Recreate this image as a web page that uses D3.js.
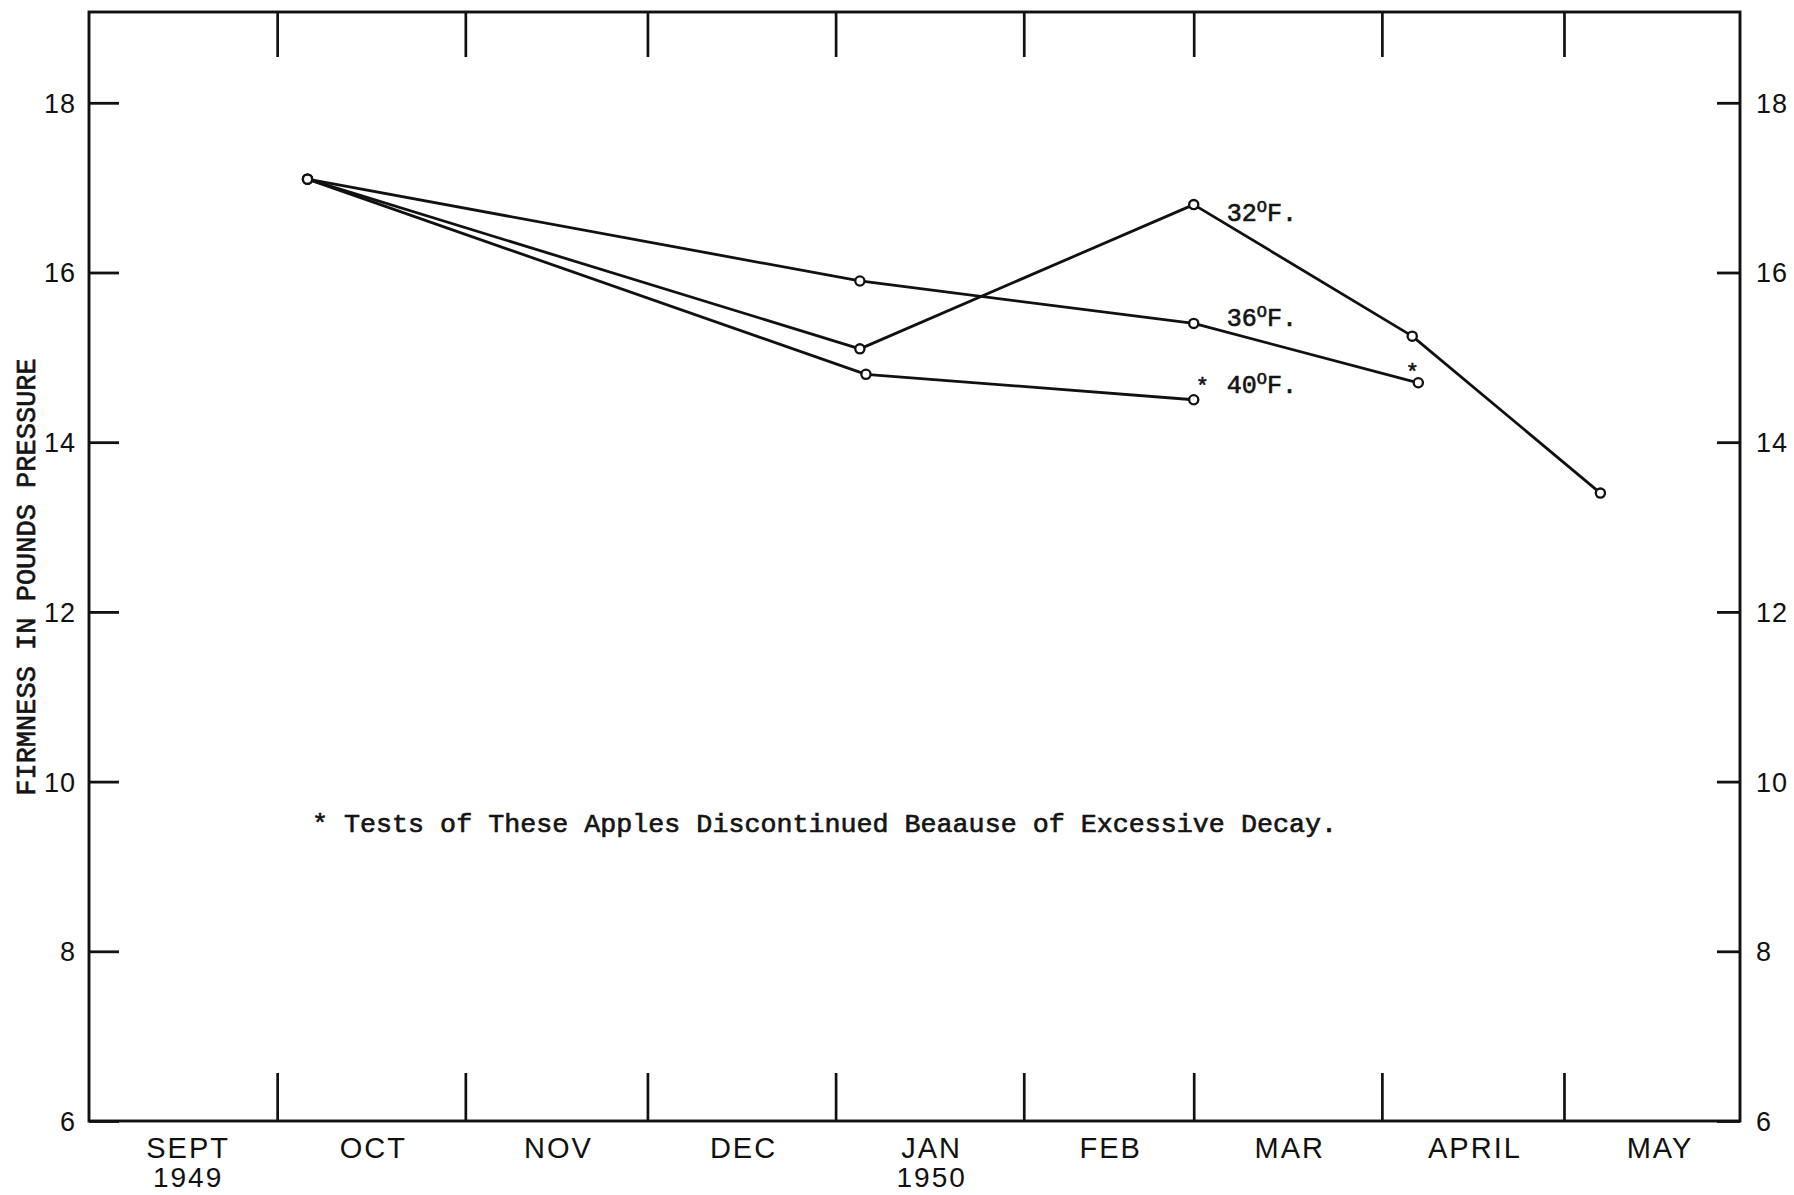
<!DOCTYPE html>
<html>
<head>
<meta charset="utf-8">
<script src="https://cdn.jsdelivr.net/npm/d3@7"></script>
<style>
  html, body { margin: 0; padding: 0; background: #fff; }
  svg { display: block; }
  .lettering { font-family: "Liberation Sans", Arial, sans-serif; fill: #111; }
  .typed { font-family: "Liberation Mono", "DejaVu Sans Mono", monospace; fill: #141414; stroke: #141414; stroke-width: 0.65px; }
</style>
</head>
<body>
<script>
// Firmness of apples held at three storage temperatures, Oct 1949 - May 1950
const monthNames = ["SEPT", "OCT", "NOV", "DEC", "JAN", "FEB", "MAR", "APRIL", "MAY"];
const yearNames  = ["1949", "", "", "", "1950", "", "", "", ""];
const yTicks = [6, 8, 10, 12, 14, 16, 18];

const dates32 = ["1949-10-06", "1950-01-05", "1950-03-01", "1950-04-06", "1950-05-07"];
const firm32  = [17.1, 15.1, 16.8, 15.25, 13.4];
const dates36 = ["1949-10-06", "1950-01-05", "1950-03-01", "1950-04-07"];
const firm36  = [17.1, 15.9, 15.4, 14.7];
const dates40 = ["1949-10-06", "1950-01-06", "1950-03-01"];
const firm40  = [17.1, 14.8, 14.5];

const seriesNames = ["32", "36", "40"];
const discontinued = [false, true, true];   // series ended early (marked with *)

const W = 1794, H = 1195;
const plotLeft = 89, plotRight = 1740, plotTop = 12, plotBottom = 1121;

const parse = d3.timeParse("%Y-%m-%d");
const x = d3.scaleTime()
  .domain([new Date(1949, 7, 31), new Date(1950, 4, 30)])
  .range([plotLeft, plotRight]);
const y = d3.scaleLinear()
  .domain([6, 19.07])
  .range([plotBottom, plotTop]);

const svg = d3.select("body").append("svg")
  .attr("width", W).attr("height", H);

// Month boundaries
const boundaries = d3.timeMonth.range(new Date(1949, 9, 1), new Date(1950, 5, 1));
const monthStarts = d3.timeMonth.range(new Date(1949, 8, 1), new Date(1950, 5, 1));

// Top and bottom month-boundary ticks (pointing into the plot)
svg.append("g")
  .attr("transform", `translate(0,${plotTop})`)
  .call(d3.axisTop(x).tickValues(boundaries).tickSize(-45).tickFormat(""))
  .call(g => g.select(".domain").remove())
  .call(g => g.selectAll(".tick line").attr("stroke", "#111").attr("stroke-width", 2.7));

svg.append("g")
  .attr("transform", `translate(0,${plotBottom})`)
  .call(d3.axisBottom(x).tickValues(boundaries).tickSize(-48).tickFormat(""))
  .call(g => g.select(".domain").remove())
  .call(g => g.selectAll(".tick line").attr("stroke", "#111").attr("stroke-width", 2.7));

// Left and right value axes with inward ticks
svg.append("g")
  .attr("transform", `translate(${plotLeft},0)`)
  .call(d3.axisLeft(y).tickValues(yTicks).tickSize(-30).tickFormat(""))
  .call(g => g.select(".domain").remove())
  .call(g => g.selectAll(".tick line").attr("stroke", "#111").attr("stroke-width", 2.8));

svg.append("g")
  .attr("transform", `translate(${plotRight},0)`)
  .call(d3.axisRight(y).tickValues(yTicks).tickSize(-23).tickFormat(""))
  .call(g => g.select(".domain").remove())
  .call(g => g.selectAll(".tick line").attr("stroke", "#111").attr("stroke-width", 2.8));

// Frame
svg.append("rect")
  .attr("x", plotLeft).attr("y", plotTop)
  .attr("width", plotRight - plotLeft).attr("height", plotBottom - plotTop)
  .attr("fill", "none").attr("stroke", "#111").attr("stroke-width", 2.9);

// Value labels on both sides
svg.append("g").selectAll("text").data(yTicks).join("text")
  .attr("class", "lettering")
  .attr("x", 76).attr("y", d => y(d) + 10)
  .attr("text-anchor", "end")
  .attr("font-size", 27).attr("letter-spacing", 1)
  .text(d => d);

svg.append("g").selectAll("text").data(yTicks).join("text")
  .attr("class", "lettering")
  .attr("x", 1756).attr("y", d => y(d) + 10)
  .attr("text-anchor", "start")
  .attr("font-size", 27).attr("letter-spacing", 1)
  .text(d => d);

// Month names centred in each month
const monthMid = m => (x(m) + x(d3.timeMonth.offset(m, 1))) / 2;
const mg = svg.append("g");
mg.selectAll("text.month").data(monthStarts).join("text")
  .attr("class", "lettering month")
  .attr("x", d => monthMid(d) + 2).attr("y", 1158)
  .attr("text-anchor", "middle")
  .attr("font-size", 29).attr("letter-spacing", 2)
  .text((d, i) => monthNames[i]);
mg.selectAll("text.year").data(monthStarts).join("text")
  .attr("class", "lettering year")
  .attr("x", d => monthMid(d) + 2).attr("y", 1187)
  .attr("text-anchor", "middle")
  .attr("font-size", 28).attr("letter-spacing", 2)
  .text((d, i) => yearNames[i]);

// Vertical axis title
svg.append("text")
  .attr("class", "typed")
  .attr("transform", "translate(35,577) rotate(-90)")
  .attr("text-anchor", "middle")
  .attr("font-size", 27)
  .text("FIRMNESS IN POUNDS PRESSURE");

// Series
const series = [
  { name: seriesNames[0], pts: dates32.map((d, i) => ({ date: parse(d), v: firm32[i] })) },
  { name: seriesNames[1], pts: dates36.map((d, i) => ({ date: parse(d), v: firm36[i] })) },
  { name: seriesNames[2], pts: dates40.map((d, i) => ({ date: parse(d), v: firm40[i] })) }
];

const line = d3.line().x(d => x(d.date)).y(d => y(d.v));

svg.append("g").selectAll("path").data(series).join("path")
  .attr("d", s => line(s.pts))
  .attr("fill", "none").attr("stroke", "#111")
  .attr("stroke-width", 2.8).attr("stroke-linejoin", "round");

svg.append("g").selectAll("circle")
  .data(series.flatMap(s => s.pts))
  .join("circle")
  .attr("cx", d => x(d.date)).attr("cy", d => y(d.v))
  .attr("r", 4.6)
  .attr("fill", "#fff").attr("stroke", "#111").attr("stroke-width", 2.3);

// Temperature labels beside the March readings (baseline offsets from the point)
const labelShift = [16, 3, -7];
const labelG = svg.append("g");
series.forEach((s, i) => {
  const p = s.pts.find(d => d.date.getMonth() === 2);
  const lx = x(p.date) + 33;
  const ly = y(p.v) + labelShift[i];
  const t = labelG.append("text").attr("class", "typed")
    .attr("x", lx).attr("y", ly).attr("font-size", 25);
  t.append("tspan").text(s.name);
  t.append("tspan").attr("font-size", 17).attr("dy", -9).text("O");
  t.append("tspan").attr("dy", 9).text("F.");
});

// Asterisks on series that were stopped
series.forEach((s, i) => {
  if (!discontinued[i]) return;
  const last = s.pts[s.pts.length - 1];
  const isMarch = last.date.getMonth() === 2;
  labelG.append("text").attr("class", "typed")
    .attr("x", isMarch ? x(last.date) + 2 : x(last.date) - 6)
    .attr("y", isMarch ? y(last.v) - 7 : y(last.v) - 4)
    .attr("font-size", 22)
    .attr("text-anchor", isMarch ? "start" : "middle")
    .text("*");
});

// Footnote
svg.append("text")
  .attr("class", "typed")
  .attr("x", 312).attr("y", 832)
  .attr("font-size", 26.7)
  .text("* Tests of These Apples Discontinued Beaause of Excessive Decay.");
</script>
</body>
</html>
